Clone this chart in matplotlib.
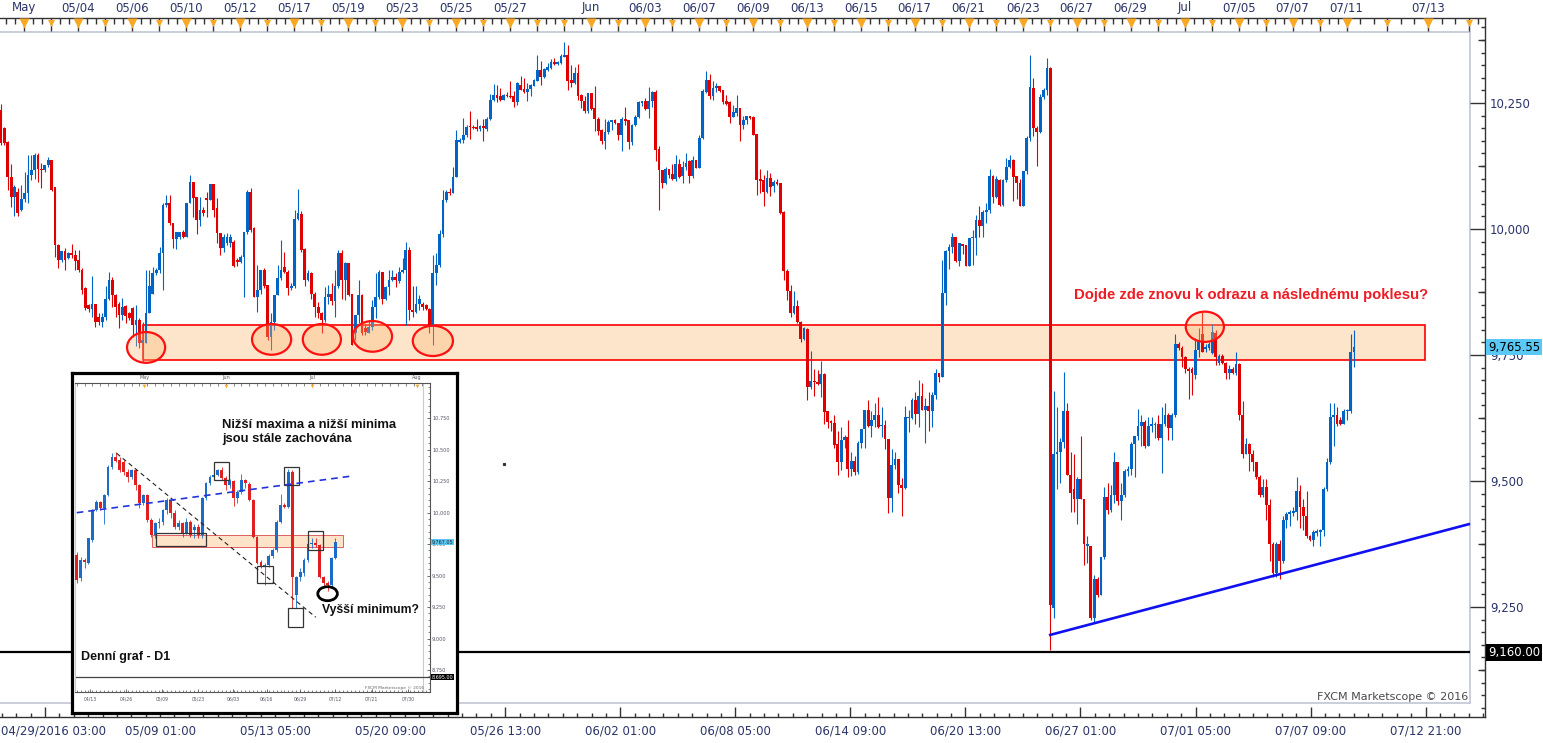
import numpy as np
import matplotlib.pyplot as plt
import matplotlib.transforms as mtransforms
from matplotlib.patches import Rectangle, Ellipse
from matplotlib.ticker import MultipleLocator, FixedLocator

plt.rcParams['font.family'] = ['DejaVu Sans']

# ---------------- main chart: 3h candles ----------------
opens = [
    10236, 10200, 10173, 10104, 10064, 10074, 10038, 10059, 10071, 10107,
    10118, 10147, 10120, 10117, 10127, 10137, 10084, 9968, 9938, 9957,
    9942, 9952, 9948, 9938, 9919, 9882, 9849, 9841, 9851, 9826,
    9816, 9826, 9862, 9899, 9869, 9852, 9829, 9847, 9833, 9844,
    9810, 9819, 9773, 9773, 9833, 9872, 9912, 9919, 9952, 10048,
    10051, 10011, 9981, 9985, 9995, 9985, 10051, 10094, 10064, 10018,
    10038, 10061, 10058, 10089, 10041, 9993, 9962, 9972, 9972, 9975,
    9938, 9935, 9945, 9995, 10074, 10001, 9866, 9879, 9919, 9889,
    9786, 9816, 9869, 9902, 9925, 9915, 9882, 9886, 10020, 10030,
    9960, 9899, 9912, 9872, 9846, 9833, 9819, 9866, 9872, 9858,
    9886, 9952, 9899, 9932, 9872, 9793, 9829, 9869, 9803, 9793,
    9806, 9846, 9866, 9915, 9862, 9884, 9899, 9905, 9896, 9915,
    9919, 9958, 9839, 9836, 9852, 9852, 9849, 9841, 9806, 9912,
    9929, 9991, 10058, 10074, 10071, 10104, 10173, 10177, 10186, 10204,
    10202, 10203, 10198, 10204, 10198, 10218, 10256, 10266, 10263, 10256,
    10266, 10264, 10263, 10251, 10286, 10277, 10271, 10277, 10284, 10294,
    10316, 10302, 10316, 10320, 10332, 10328, 10329, 10342, 10345, 10296,
    10290, 10309, 10266, 10254, 10234, 10269, 10240, 10218, 10197, 10175,
    10193, 10213, 10216, 10210, 10187, 10218, 10216, 10173, 10207, 10222,
    10250, 10253, 10238, 10253, 10271, 10158, 10117, 10092, 10119, 10109,
    10099, 10129, 10105, 10124, 10134, 10105, 10137, 10122, 10180, 10271,
    10296, 10263, 10279, 10283, 10275, 10253, 10251, 10223, 10231, 10240,
    10207, 10216, 10224, 10223, 10189, 10099, 10097, 10074, 10101, 10085,
    10094, 10091, 10033, 9916, 9877, 9834, 9847, 9816, 9781, 9802,
    9686, 9699, 9697, 9692, 9713, 9638, 9620, 9616, 9574, 9537,
    9582, 9588, 9523, 9540, 9517, 9575, 9603, 9640, 9610, 9621,
    9631, 9609, 9611, 9583, 9466, 9532, 9543, 9492, 9486, 9625,
    9625, 9660, 9633, 9669, 9640, 9648, 9638, 9671, 9715, 9707,
    9873, 9957, 9965, 9984, 9937, 9970, 9968, 9926, 9982, 9982,
    10017, 10006, 10033, 10038, 10105, 10063, 10097, 10048, 10097, 10123,
    10136, 10105, 10092, 10046, 10116, 10180, 10280, 10200, 10193, 10262,
    10275, 10320, 9249, 9553, 9557, 9577, 9638, 9512, 9484, 9464,
    9504, 9464, 9371, 9371, 9229, 9306, 9273, 9350, 9468, 9443,
    9472, 9537, 9460, 9472, 9520, 9524, 9573, 9589, 9610, 9618,
    9569, 9610, 9611, 9614, 9585, 9614, 9630, 9605, 9630, 9771,
    9763, 9747, 9723, 9723, 9711, 9759, 9792, 9761, 9763, 9753,
    9794, 9735, 9749, 9735, 9715, 9723, 9715, 9733, 9630, 9553,
    9573, 9553, 9537, 9508, 9472, 9488, 9452, 9375, 9318, 9375,
    9342, 9423, 9435, 9437, 9439, 9480, 9448, 9431, 9391, 9383,
    9397, 9399, 9403, 9484, 9537, 9626, 9630, 9622, 9614, 9638,
    9638, 9755,
]
highs = [
    10249, 10203, 10175, 10129, 10087, 10081, 10087, 10114, 10147, 10147,
    10150, 10150, 10130, 10124, 10142, 10137, 10084, 9970, 9955, 9962,
    9955, 9970, 9958, 9958, 9922, 9884, 9852, 9907, 9852, 9833,
    9833, 9886, 9914, 9905, 9872, 9856, 9864, 9849, 9836, 9846,
    9849, 9823, 9816, 9919, 9919, 9925, 9922, 9965, 10051, 10067,
    10067, 10011, 9995, 9995, 9998, 10052, 10107, 10094, 10064, 10064,
    10044, 10074, 10089, 10089, 10061, 9993, 9991, 9993, 9991, 9978,
    9942, 9948, 9995, 10077, 10081, 10003, 9929, 9919, 9922, 9889,
    9833, 9869, 9929, 9979, 9954, 9919, 9892, 10038, 10079, 10035,
    9962, 9919, 9915, 9875, 9856, 9836, 9884, 9889, 9892, 9919,
    9958, 9958, 9935, 9932, 9872, 9829, 9899, 9872, 9810, 9819,
    9859, 9912, 9919, 9915, 9886, 9919, 9919, 9912, 9925, 9942,
    9974, 9965, 9886, 9886, 9869, 9856, 9852, 9843, 9948, 9952,
    9998, 10077, 10077, 10081, 10124, 10196, 10180, 10220, 10206, 10235,
    10206, 10218, 10206, 10218, 10223, 10268, 10288, 10286, 10279, 10268,
    10271, 10294, 10273, 10292, 10304, 10299, 10290, 10288, 10298, 10345,
    10333, 10319, 10330, 10337, 10339, 10334, 10347, 10371, 10365, 10326,
    10321, 10328, 10268, 10264, 10270, 10269, 10284, 10222, 10199, 10218,
    10216, 10216, 10219, 10210, 10222, 10242, 10216, 10208, 10226, 10254,
    10254, 10260, 10282, 10273, 10275, 10165, 10118, 10124, 10119, 10129,
    10147, 10139, 10135, 10150, 10137, 10144, 10137, 10187, 10277, 10314,
    10308, 10294, 10290, 10284, 10276, 10266, 10253, 10246, 10266, 10241,
    10224, 10225, 10225, 10225, 10189, 10119, 10107, 10117, 10111, 10097,
    10099, 10092, 10036, 9921, 9889, 9877, 9859, 9818, 9806, 9803,
    9757, 9722, 9720, 9739, 9715, 9638, 9621, 9631, 9599, 9608,
    9591, 9621, 9558, 9549, 9580, 9603, 9641, 9661, 9638, 9654,
    9667, 9646, 9621, 9584, 9564, 9558, 9543, 9506, 9648, 9641,
    9664, 9676, 9701, 9695, 9664, 9676, 9677, 9722, 9715, 9939,
    9959, 9970, 9992, 9985, 9973, 9970, 9968, 9982, 9998, 10028,
    10046, 10038, 10051, 10119, 10107, 10105, 10099, 10099, 10141, 10147,
    10138, 10105, 10099, 10116, 10185, 10346, 10300, 10205, 10268, 10280,
    10340, 10322, 9678, 9646, 9585, 9716, 9654, 9557, 9553, 9508,
    9589, 9464, 9391, 9371, 9314, 9310, 9350, 9488, 9496, 9492,
    9557, 9537, 9496, 9524, 9530, 9577, 9589, 9642, 9630, 9622,
    9626, 9626, 9618, 9630, 9646, 9654, 9634, 9634, 9792, 9776,
    9767, 9749, 9727, 9727, 9784, 9804, 9836, 9771, 9775, 9812,
    9800, 9752, 9751, 9737, 9731, 9727, 9755, 9735, 9658, 9585,
    9575, 9561, 9538, 9512, 9504, 9504, 9464, 9379, 9379, 9383,
    9431, 9439, 9443, 9448, 9508, 9492, 9464, 9480, 9393, 9403,
    9405, 9405, 9488, 9545, 9654, 9654, 9646, 9626, 9642, 9642,
    9792, 9800,
]
lows = [
    10167, 10167, 10077, 10044, 10026, 10026, 10036, 10054, 10051, 10097,
    10100, 10094, 10081, 10114, 10124, 10076, 9945, 9922, 9935, 9919,
    9940, 9942, 9919, 9915, 9872, 9839, 9836, 9826, 9806, 9810,
    9806, 9819, 9859, 9846, 9826, 9803, 9819, 9813, 9819, 9786,
    9767, 9763, 9737, 9773, 9833, 9872, 9909, 9912, 9879, 10044,
    10008, 9962, 9960, 9981, 9983, 9985, 10051, 10024, 9991, 10005,
    10026, 10024, 10058, 10024, 9972, 9948, 9955, 9968, 9965, 9925,
    9927, 9932, 9866, 9991, 9995, 9866, 9836, 9872, 9882, 9780,
    9760, 9800, 9869, 9899, 9912, 9869, 9879, 9882, 10018, 9955,
    9886, 9896, 9862, 9826, 9823, 9793, 9816, 9852, 9849, 9826,
    9882, 9862, 9859, 9867, 9770, 9780, 9813, 9790, 9790, 9793,
    9800, 9823, 9862, 9852, 9859, 9869, 9896, 9884, 9892, 9912,
    9810, 9819, 9826, 9833, 9839, 9839, 9839, 9793, 9770, 9889,
    9925, 9985, 10054, 10067, 10071, 10104, 10170, 10170, 10183, 10178,
    10198, 10195, 10195, 10175, 10195, 10216, 10253, 10251, 10254, 10256,
    10262, 10259, 10243, 10246, 10275, 10269, 10253, 10264, 10283, 10294,
    10286, 10299, 10314, 10318, 10326, 10326, 10328, 10342, 10275, 10281,
    10288, 10255, 10241, 10230, 10231, 10237, 10195, 10187, 10168, 10159,
    10189, 10197, 10208, 10177, 10154, 10207, 10159, 10167, 10205, 10220,
    10244, 10236, 10221, 10243, 10134, 10038, 10082, 10089, 10101, 10097,
    10095, 10101, 10092, 10117, 10092, 10102, 10122, 10122, 10178, 10269,
    10258, 10255, 10271, 10272, 10249, 10246, 10211, 10222, 10225, 10175,
    10198, 10208, 10218, 10187, 10068, 10071, 10046, 10071, 10066, 10074,
    10087, 10030, 9898, 9859, 9826, 9832, 9813, 9775, 9779, 9660,
    9682, 9669, 9691, 9666, 9613, 9606, 9600, 9565, 9511, 9522,
    9565, 9507, 9509, 9512, 9514, 9565, 9566, 9608, 9588, 9608,
    9605, 9588, 9563, 9436, 9439, 9523, 9476, 9431, 9484, 9598,
    9623, 9613, 9608, 9640, 9576, 9599, 9608, 9662, 9697, 9707,
    9849, 9921, 9952, 9935, 9926, 9950, 9926, 9926, 9929, 9949,
    9985, 9985, 10011, 10031, 10051, 10061, 10045, 10046, 10094, 10121,
    10056, 10059, 10046, 10046, 10110, 10175, 10185, 10125, 10190, 10258,
    10265, 9164, 9229, 9484, 9496, 9565, 9512, 9439, 9439, 9415,
    9464, 9334, 9338, 9225, 9221, 9270, 9273, 9346, 9435, 9439,
    9456, 9452, 9423, 9468, 9510, 9512, 9508, 9581, 9569, 9565,
    9569, 9597, 9585, 9581, 9516, 9610, 9581, 9581, 9626, 9759,
    9727, 9715, 9662, 9670, 9703, 9747, 9755, 9755, 9760, 9751,
    9731, 9730, 9733, 9703, 9703, 9712, 9711, 9622, 9545, 9553,
    9520, 9520, 9504, 9468, 9468, 9423, 9342, 9310, 9310, 9306,
    9338, 9407, 9411, 9430, 9423, 9407, 9403, 9387, 9380, 9371,
    9390, 9371, 9391, 9480, 9533, 9569, 9610, 9612, 9614, 9622,
    9634, 9727,
]
closes = [
    10170, 10170, 10104, 10064, 10084, 10031, 10059, 10071, 10107, 10118,
    10147, 10120, 10117, 10127, 10137, 10077, 9968, 9938, 9957, 9938,
    9952, 9948, 9937, 9919, 9879, 9843, 9841, 9851, 9816, 9816,
    9826, 9862, 9899, 9869, 9846, 9829, 9846, 9827, 9823, 9810,
    9819, 9773, 9780, 9833, 9886, 9912, 9919, 9952, 10048, 10051,
    10011, 9981, 9995, 9995, 9985, 10051, 10094, 10061, 10018, 10038,
    10031, 10058, 10089, 10038, 9993, 9962, 9985, 9985, 9985, 9927,
    9935, 9945, 9995, 10074, 9998, 9866, 9879, 9919, 9886, 9786,
    9816, 9869, 9902, 9919, 9915, 9882, 9886, 10020, 10031, 9958,
    9899, 9912, 9872, 9846, 9833, 9819, 9866, 9872, 9858, 9886,
    9952, 9899, 9932, 9869, 9770, 9829, 9869, 9793, 9795, 9806,
    9846, 9866, 9915, 9862, 9884, 9899, 9905, 9899, 9915, 9919,
    9958, 9839, 9836, 9852, 9862, 9846, 9841, 9806, 9912, 9929,
    9991, 10058, 10074, 10071, 10104, 10177, 10177, 10186, 10203, 10202,
    10200, 10198, 10204, 10200, 10218, 10256, 10266, 10259, 10256, 10266,
    10263, 10261, 10251, 10290, 10276, 10271, 10277, 10286, 10296, 10316,
    10302, 10318, 10322, 10332, 10328, 10332, 10343, 10345, 10294, 10290,
    10309, 10263, 10253, 10235, 10269, 10238, 10218, 10195, 10175, 10193,
    10213, 10216, 10210, 10187, 10218, 10215, 10173, 10207, 10222, 10251,
    10253, 10238, 10254, 10271, 10157, 10117, 10092, 10119, 10107, 10099,
    10129, 10104, 10124, 10130, 10105, 10137, 10122, 10180, 10273, 10296,
    10263, 10279, 10283, 10273, 10251, 10248, 10223, 10233, 10240, 10207,
    10216, 10224, 10220, 10187, 10097, 10095, 10074, 10101, 10084, 10094,
    10089, 10031, 9916, 9876, 9834, 9847, 9816, 9781, 9803, 9686,
    9699, 9696, 9692, 9713, 9636, 9618, 9615, 9572, 9537, 9582,
    9588, 9523, 9540, 9517, 9575, 9603, 9640, 9610, 9621, 9631,
    9608, 9611, 9583, 9466, 9532, 9543, 9492, 9486, 9626, 9626,
    9660, 9633, 9669, 9640, 9648, 9638, 9671, 9715, 9707, 9873,
    9957, 9965, 9984, 9937, 9972, 9967, 9926, 9982, 9983, 10018,
    10006, 10033, 10038, 10105, 10063, 10099, 10048, 10097, 10124, 10136,
    10104, 10091, 10046, 10115, 10180, 10282, 10200, 10193, 10262, 10275,
    10320, 9253, 9553, 9557, 9577, 9638, 9512, 9476, 9464, 9504,
    9464, 9375, 9375, 9229, 9306, 9273, 9350, 9468, 9443, 9472,
    9537, 9460, 9472, 9520, 9524, 9573, 9589, 9610, 9618, 9569,
    9610, 9614, 9614, 9585, 9614, 9630, 9605, 9630, 9771, 9763,
    9747, 9723, 9719, 9715, 9759, 9780, 9755, 9765, 9771, 9796,
    9747, 9749, 9735, 9715, 9723, 9715, 9733, 9630, 9553, 9573,
    9553, 9537, 9508, 9472, 9488, 9452, 9375, 9318, 9375, 9342,
    9423, 9435, 9439, 9440, 9480, 9448, 9431, 9391, 9383, 9399,
    9400, 9403, 9484, 9537, 9626, 9630, 9614, 9614, 9638, 9640,
    9755, 9765.55,
]

# date labels on top (bar positions) and time labels at the bottom
top_labels = ["May", "05/04", "05/06", "05/10", "05/12", "05/17", "05/19", "05/23",
              "05/25", "05/27", "Jun", "06/03", "06/07", "06/09", "06/13", "06/15",
              "06/17", "06/21", "06/23", "06/27", "06/29", "Jul", "07/05", "07/07",
              "07/11", "07/13"]
top_pos = [6.8, 22.8, 38.8, 54.8, 70.8, 86.8, 102.8, 118.8, 134.8, 150.8, 174.8,
           190.8, 206.8, 222.8, 238.8, 254.8, 270.8, 286.8, 302.8, 318.8, 334.8,
           350.8, 366.8, 382.8, 398.8, 423.0]
top_small_pos = [14.8, 30.8, 46.8, 62.8, 78.8, 94.8, 110.8, 126.8, 142.8, 158.8,
                 166.8, 182.8, 198.8, 214.8, 230.8, 246.8, 262.8, 278.8, 294.8,
                 310.8, 326.8, 342.8, 358.8, 374.8, 390.8, 410.8, 435.1]
bottom_labels = ["04/29/2016 03:00", "05/09 01:00", "05/13 05:00", "05/20 09:00",
                 "05/26 13:00", "06/02 01:00", "06/08 05:00", "06/14 09:00",
                 "06/20 13:00", "06/27 01:00", "07/01 05:00", "07/07 09:00",
                 "07/12 21:00"]
bottom_first, bottom_step = 13.04, 34.1

band_low, band_high = 9740, 9810
band_x = (42.2, 422.0)
support = 9160
last_price = 9765.55
trend_x = [310.6, 435.4]
trend_y = [9194, 9415]
circles = [(43.0, 9765, 11.3, 61), (80.2, 9781, 11.6, 61), (95.1, 9781, 11.3, 61),
           (110.1, 9787, 11.6, 61), (128.0, 9778, 11.9, 60), (356.8, 9806, 11.3, 60)]

# ---------------- inset: daily candles ----------------
d_opens = [9664, 9479, 9624, 9598, 9783, 10021, 10087, 10034, 10140, 10365,
           10439, 10418, 10405, 10325, 10286, 10339, 10220, 10074, 10140, 9942,
           9823, 9915, 9929, 10021, 10101, 9995, 9889, 9915, 9836, 9929,
           9860, 9889, 9823, 10114, 10233, 10286, 10299, 10339, 10273, 10220,
           10254, 10114, 10167, 10259, 10228, 10101, 9809, 9611, 9571, 9585,
           9656, 9704, 9929, 10061, 10048, 10325, 9346, 9492, 9518, 9624,
           9751, 9757, 9743, 9492, 9439, 9426, 9637]
d_highs = [9690, 9650, 9640, 9800, 10030, 10100, 10095, 10150, 10380, 10470,
           10484, 10440, 10420, 10345, 10350, 10345, 10230, 10150, 10150, 9955,
           9925, 9960, 10030, 10120, 10110, 10020, 9940, 9930, 9960, 9940,
           9910, 9910, 10125, 10240, 10300, 10340, 10350, 10365, 10290, 10270,
           10260, 10180, 10310, 10265, 10240, 10110, 9815, 9625, 9600, 9670,
           9720, 9940, 10150, 10080, 10350, 10340, 9500, 9560, 9640, 9770,
           9800, 9800, 9750, 9500, 9460, 9650, 9800]
d_lows = [9439, 9460, 9560, 9590, 9770, 10010, 10020, 9910, 10130, 10350,
          10400, 10320, 10300, 10240, 10270, 10180, 10040, 10060, 9930, 9810,
          9800, 9880, 9900, 9990, 9960, 9870, 9860, 9810, 9830, 9810,
          9800, 9800, 9800, 10100, 10220, 10270, 10290, 10260, 10180, 10200,
          10050, 10080, 10150, 10200, 10090, 9800, 9590, 9560, 9430, 9570,
          9640, 9690, 9920, 10040, 10040, 9241, 9240, 9460, 9500, 9610,
          9720, 9730, 9480, 9420, 9380, 9400, 9630]
d_closes = [9466, 9624, 9611, 9796, 10021, 10087, 10034, 10140, 10365, 10445,
            10413, 10339, 10325, 10286, 10339, 10220, 10074, 10140, 9942, 9823,
            9915, 9929, 10021, 10101, 9995, 9889, 9915, 9836, 9929, 9823,
            9889, 9823, 10114, 10233, 10286, 10299, 10339, 10273, 10220, 10254,
            10114, 10167, 10259, 10233, 10101, 9809, 9598, 9571, 9585, 9656,
            9704, 9929, 10061, 10048, 10325, 9492, 9492, 9532, 9624, 9751,
            9757, 9743, 9492, 9439, 9426, 9637, 9770]
d_months = ["May", "Jun", "Jul", "Aug"]
d_month_pos = [17.2, 38.1, 60.0, 86.8]
d_dates = ["04/13", "04/26", "05/09", "05/23", "06/03", "06/16", "06/29", "07/12",
           "07/21", "07/30"]
d_date_pos = [3.4, 12.6, 21.8, 31.0, 39.9, 48.5, 57.0, 65.9, 75.3, 84.5]
d_band = (19.3, 68.0, 9725, 9823)
d_boxes = [(20.2, 33.0, 9738, 9837), (35.1, 38.9, 10260, 10400), (53.0, 56.8, 10220, 10365),
           (46.1, 50.0, 9440, 9577), (54.0, 57.8, 9090, 9241), (59.1, 62.9, 9704, 9855)]
d_down_line = ([10.2, 61.0], [10471, 9170])
d_up_line = ([0.0, 70.2], [10000, 10291])
d_last, d_low_level = 9767.05, 8695.00

BLUE, RED = '#0063c6', '#e00000'
ORANGE = '#f9a825'
TXT = '#2b3468'
W, H = 1543, 743
BAR_PX = 3.374
PPX = 250 / 126  # price per pixel


def px_box(x0, y0, x1, y1):
    return [x0 / W, 1 - y1 / H, (x1 - x0) / W, (y1 - y0) / H]


def candles(a, o, h, l, c, width, lw, blue, red, minh):
    o, h, l, c = (np.asarray(v, dtype=float) for v in (o, h, l, c))
    x = np.arange(len(o))
    col = np.where(c >= o, blue, red)
    a.vlines(x, l, h, colors=col, linewidth=lw, zorder=3)
    bottom = np.minimum(o, c)
    height = np.maximum(np.abs(c - o), minh)
    a.bar(x, height, width, bottom=bottom, color=col, linewidth=0, zorder=3)


fig = plt.figure(figsize=(W / 100, H / 100), dpi=100)
ax = fig.add_axes(px_box(0, 18, 1485, 717))
ax.set_xlim(-1 / BAR_PX, 1484 / BAR_PX)
ax.set_ylim(10000 - (717 - 229) * PPX, 10000 + (229 - 18) * PPX)
ax.spines['left'].set_visible(False)
for s in ('top', 'right', 'bottom'):
    ax.spines[s].set_color('#333333')
    ax.spines[s].set_linewidth(1)

bx = mtransforms.blended_transform_factory(ax.transData, ax.transAxes)
by = mtransforms.blended_transform_factory(ax.transAxes, ax.transData)
AH = 699.0

# inner light frame
for yy in (1 - 14 / AH, 14 / AH):
    ax.plot([0, 1470 / 1485], [yy, yy], transform=ax.transAxes, color='#c5cad6', lw=1.3, zorder=1)
ax.plot([1470 / 1485] * 2, [14 / AH, 1 - 14 / AH], transform=ax.transAxes, color='#c5cad6', lw=1.3, zorder=1)

# band + levels
ax.add_patch(Rectangle((band_x[0], band_low), band_x[1] - band_x[0], band_high - band_low,
                       facecolor='#fde5cc', edgecolor='#ff0000', lw=1.2, zorder=1.5))
ax.hlines(support, -0.3, 1469 / BAR_PX, color='black', lw=1.6, zorder=2)

candles(ax, opens, highs, lows, closes, 0.82, 0.8, BLUE, RED, 2.0)

for cx, cy, w, h in circles:
    ax.add_patch(Ellipse((cx, cy), w, h, facecolor=(1.0, 0.72, 0.45, 0.35),
                         edgecolor='#ff1010', lw=1.6, zorder=4))
ax.plot(trend_x, trend_y, color='#1010f0', lw=1.9, zorder=4, solid_capstyle='butt')
ax.plot([149], [9534], marker='s', ms=1.3, color='#333333', zorder=4)

ax.text(370.5, 9869, "Dojde zde znovu k odrazu a následnému poklesu?", ha='center', va='center',
        color='#ee1c25', fontsize=10.7, fontweight='bold', family='Liberation Sans', zorder=5)
ax.text(1468 / 1485, 20 / AH, "FXCM Marketscope © 2016", transform=ax.transAxes,
        ha='right', va='center', fontsize=8, color='#4a4a4a')

# right axis
ax.yaxis.tick_right()
yt = np.arange(9250, 10251, 250)
ax.set_yticks(yt)
ax.set_yticklabels([f"{v:,}" for v in yt])
ax.yaxis.set_minor_locator(MultipleLocator(25))
ax.tick_params(axis='y', which='major', direction='in', length=10.5, width=1, color='#333333',
               labelcolor=TXT, labelsize=8.5, pad=3.5)
ax.tick_params(axis='y', which='minor', direction='in', length=2.6, width=1, color='#333333')
mid = np.arange(9125, 10400, 250)
ax.hlines(mid, 1 - 7 / 1485, 1, transform=by, color='#333333', lw=1, clip_on=False)

# bottom axis
bpos = bottom_first + bottom_step * np.arange(len(bottom_labels))
ax.set_xticks(bpos)
ax.xaxis.set_minor_locator(FixedLocator(np.arange(bottom_first - 3 * bottom_step / 8, 440, bottom_step / 8)))
ax.tick_params(axis='x', which='major', direction='in', length=7, width=1, color='#333333', labelbottom=False)
ax.tick_params(axis='x', which='minor', direction='in', length=3, width=1, color='#333333')
for i, (p, lab) in enumerate(zip(bpos, bottom_labels)):
    if i == 0:
        ax.text(0.001, -14 / AH, lab, transform=ax.transAxes, ha='left', va='center', fontsize=8.5, color=TXT)
    else:
        ax.text(p, -14 / AH, lab, transform=bx, ha='center', va='center', fontsize=8.5, color=TXT, clip_on=False)

# top axis
tri = sorted(top_pos + top_small_pos)
minor_top = [tri[0] - 16 / 6, tri[0] - 32 / 6]
for a_, b_ in zip(tri[:-1], tri[1:]):
    minor_top += [a_ + (b_ - a_) / 3, a_ + 2 * (b_ - a_) / 3]
minor_top.append(tri[-1] + 2.7)
ax.vlines(minor_top, 1 - 6 / AH, 1, transform=bx, color='#333333', lw=1, clip_on=False)
ax.vlines(tri, 1 - 13 / AH, 1, transform=bx, color='#333333', lw=1, clip_on=False)
ax.scatter(top_pos, [1 - 5 / AH] * len(top_pos), marker='v', s=52, color=ORANGE,
           transform=bx, clip_on=False, linewidths=0, zorder=6)
ax.scatter(top_small_pos, [1 - 4.5 / AH] * len(top_small_pos), marker='v', s=26, color=ORANGE,
           transform=bx, clip_on=False, linewidths=0, zorder=6)
for p, lab in zip(top_pos, top_labels):
    ax.text(p, 1 + 10 / AH, lab, transform=bx, ha='center', va='center', fontsize=8.5, color=TXT, clip_on=False)

# price tags
ax.text(1 + 3 / 1485, last_price, f"{last_price:,.2f}", transform=by, ha='left', va='center',
        fontsize=8.5, color='black', zorder=10, clip_on=False,
        bbox=dict(boxstyle='square,pad=0.15', fc='#5ac8f5', ec='none'))
ax.text(1 + 3 / 1485, support, f"{support:,.2f}", transform=by, ha='left', va='center',
        fontsize=8.5, color='white', zorder=10, clip_on=False,
        bbox=dict(boxstyle='square,pad=0.15', fc='black', ec='none'))

# ---------------- inset ----------------
box = fig.add_axes(px_box(72, 373, 457, 713), zorder=5)
box.set_xticks([])
box.set_yticks([])
box.set_facecolor('white')
for s in box.spines.values():
    s.set_linewidth(2.3)
    s.set_color('black')

ia = fig.add_axes(px_box(75, 383, 430, 692), zorder=6)
DPX = 3.92
ia.set_xlim((75 - 76.7) / DPX, (430 - 76.7) / DPX)
ia.set_ylim(10000 - (692 - 512.7) * 7.937, 10000 + (512.7 - 383) * 7.937)
ia.spines['left'].set_color('#cccccc')
for s in ('top', 'right', 'bottom'):
    ia.spines[s].set_color('#555555')
    ia.spines[s].set_linewidth(0.8)
ia.axvline((423 - 76.7) / DPX, color='#c5cad6', lw=0.8)
ia.axhline(d_low_level, color='#444444', lw=0.9)

ia.add_patch(Rectangle((d_band[0], d_band[2]), d_band[1] - d_band[0], d_band[3] - d_band[2],
                       facecolor='#fde3c8', edgecolor='#e06060', lw=0.7, zorder=1.5))
candles(ia, d_opens, d_highs, d_lows, d_closes, 0.72, 0.6, '#1a6cc8', '#e02020', 4)
for x0, x1, y0, y1 in d_boxes:
    ia.add_patch(Rectangle((x0, y0), x1 - x0, y1 - y0, fill=False, edgecolor='#333333', lw=0.9, zorder=4))
ia.plot(*d_down_line, color='#222222', lw=0.8, ls=(0, (4, 3)), zorder=4)
ia.plot(*d_up_line, color='#2233dd', lw=1.2, ls=(0, (4, 3)), zorder=4)
ia.add_patch(Ellipse((64.0, 9357), 5.0, 111, fill=False, edgecolor='black', lw=2.0, zorder=5))

bold = dict(fontweight='bold', family='Liberation Sans', color='#111111', zorder=6)
ia.text(37.1, 10744, "Nižší maxima a nižší minima\njsou stále zachována", ha='left', va='top',
        fontsize=9.4, **bold)
ia.text(62.6, 9228, "Vyšší minimum?", ha='left', va='center', fontsize=8.8, **bold)
ia.text(1.1, 8855, "Denní graf - D1", ha='left', va='center', fontsize=9, **bold)
ia.text((424 - 75) / 355, 8609, "FXCM Marketscope © 2016", transform=mtransforms.blended_transform_factory(ia.transAxes, ia.transData),
        ha='right', va='center', fontsize=3.2, color='#666666')

ia.yaxis.tick_right()
dyt = np.arange(8750, 10751, 250)
ia.set_yticks(dyt)
ia.set_yticklabels([f"{v:,}" for v in dyt])
ia.yaxis.set_minor_locator(MultipleLocator(50))
ia.tick_params(axis='y', which='major', direction='in', length=2.5, width=0.6, color='#555555',
               labelsize=3.6, labelcolor='#555566', pad=1.5)
ia.tick_params(axis='y', which='minor', direction='in', length=1.2, width=0.5, color='#555555')
ia.set_xticks(d_date_pos)
ia.set_xticklabels(d_dates)
ia.xaxis.set_minor_locator(MultipleLocator(1))
ia.tick_params(axis='x', which='major', direction='in', length=2.5, width=0.6, color='#555555',
               labelsize=3.3, labelcolor='#555566', pad=3.5)
ia.tick_params(axis='x', which='minor', direction='in', length=1.2, width=0.5, color='#555555')
ibx = mtransforms.blended_transform_factory(ia.transData, ia.transAxes)
iby = mtransforms.blended_transform_factory(ia.transAxes, ia.transData)
ia.vlines(np.arange(0, 91, 2), 1 - 2.5 / 309, 1, transform=ibx, color='#555555', lw=0.5, clip_on=False)
ia.scatter(d_month_pos, [1 - 3 / 309] * 4, marker='v', s=7, color=ORANGE, transform=ibx,
           clip_on=False, linewidths=0, zorder=6)
for p, lab in zip(d_month_pos, d_months):
    ia.text(p, 1 + 5 / 309, lab, transform=ibx, ha='center', va='center', fontsize=3.5,
            color='#555566', clip_on=False)
ia.text(1 + 2 / 355, d_last, f"{d_last:,.2f}", transform=iby, ha='left', va='center', fontsize=3.5,
        color='#222222', zorder=10, clip_on=False, bbox=dict(boxstyle='square,pad=0.15', fc='#5ac8f5', ec='none'))
ia.text(1 + 2 / 355, d_low_level, f"{d_low_level:,.2f}", transform=iby, ha='left', va='center', fontsize=3.5,
        color='white', zorder=10, clip_on=False, bbox=dict(boxstyle='square,pad=0.15', fc='black', ec='none'))

fig.savefig('out.png', dpi=100, facecolor='white')
